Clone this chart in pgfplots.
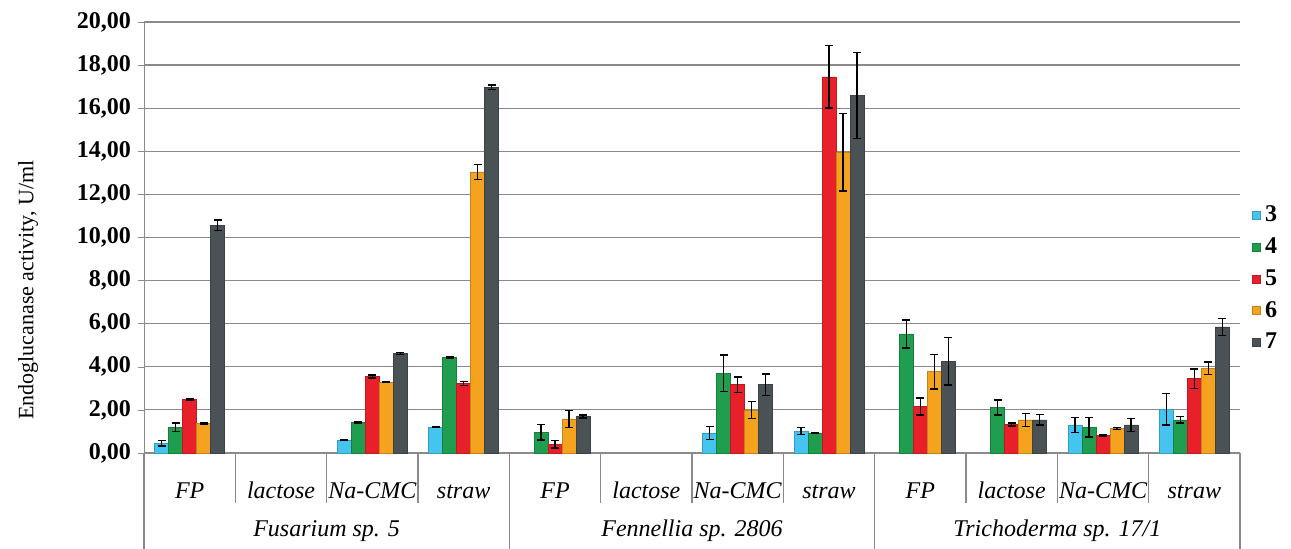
\documentclass[border=0pt]{standalone}
\usepackage{fontspec}
\setmainfont{Liberation Serif}
\usepackage{pgfplots}
\usepackage{pgfplotstable}
\pgfplotsset{compat=1.18}

\definecolor{c3}{HTML}{45C4EF}
\definecolor{c4}{HTML}{1E9E4E}
\definecolor{c5}{HTML}{E8202A}
\definecolor{c6}{HTML}{F5A21E}
\definecolor{c7}{HTML}{4A5255}
\definecolor{linecol}{HTML}{8A8A8A}

% x: 0-3 Fusarium, 4-7 Fennellia, 8-11 Trichoderma (FP, lactose, Na-CMC, straw)
\pgfplotstableread{
x y e
0 0.45 0.12
2 0.60 0.03
3 1.20 0.03
6 0.93 0.30
7 1.02 0.15
10 1.30 0.35
11 2.03 0.73
}\sthree
\pgfplotstableread{
x y e
0 1.19 0.20
2 1.42 0.03
3 4.42 0.04
4 0.96 0.35
6 3.69 0.85
7 0.93 0.03
8 5.53 0.65
9 2.11 0.35
10 1.19 0.45
11 1.54 0.15
}\sfour
\pgfplotstableread{
x y e
0 2.47 0.04
2 3.55 0.07
3 3.22 0.10
4 0.41 0.17
6 3.17 0.35
7 17.45 1.45
8 2.16 0.40
9 1.33 0.07
10 0.81 0.03
11 3.45 0.45
}\sfive
\pgfplotstableread{
x y e
0 1.38 0.04
2 3.28 0.02
3 13.04 0.35
4 1.58 0.40
6 2.00 0.40
7 13.95 1.80
8 3.77 0.80
9 1.54 0.30
10 1.14 0.05
11 3.93 0.30
}\ssix
\pgfplotstableread{
x y e
0 10.57 0.25
2 4.62 0.05
3 16.98 0.10
4 1.70 0.07
6 3.17 0.50
7 16.59 2.00
8 4.26 1.10
9 1.54 0.25
10 1.30 0.30
11 5.85 0.40
}\sseven

\begin{document}
\begin{tikzpicture}
\path[use as bounding box] (-72pt,-48pt) rectangle (573.5pt,226.5pt);
\begin{axis}[
    scale only axis,
    width=548pt, height=215.5pt,
    ybar=0pt, bar width=7pt,
    xmin=-0.5, xmax=11.5,
    ymin=0, ymax=20,
    ytick={0,2,...,20},
    xtick={0,...,11},
    xticklabels={FP,lactose,Na-CMC,straw,FP,lactose,Na-CMC,straw,FP,lactose,Na-CMC,straw},
    xticklabel style={font=\itshape\large, anchor=base, yshift=-20pt},
    major x tick style={draw=none},
    ytick pos=left, tick align=outside, major tick length=3pt,
    ytick style={linecol},
    axis x line*=bottom, axis y line*=left,
    axis line style={-, linecol},
    ymajorgrids, grid style={linecol, line width=0.6pt},
    /pgf/number format/.cd, fixed, fixed zerofill, precision=2, use comma, 1000 sep={}, assume math mode=true,
    /pgfplots/.cd,
    yticklabel style={font=\bfseries\large},
    ylabel={Endoglucanase activity, U/ml},
    every axis y label/.style={at={(rel axis cs:0,0.378)}, xshift=-58pt, rotate=90, anchor=center, font=\fontsize{11}{13}\selectfont},
    legend style={at={(1,0.404)}, anchor=west, xshift=5pt, draw=none, fill=none,
        font=\bfseries\large, row sep=2.5pt, inner sep=1pt},
    legend cell align=left,
    legend image code/.code={\fill[#1] (0pt,-2pt) rectangle (4pt,2pt);},
    clip=false,
    error bars/y dir=both, error bars/y explicit,
    error bars/error mark=-,
    error bars/error bar style={draw=black, line width=0.7pt},
    error bars/error mark options={draw=black, rotate=90, mark size=2pt, line width=0.7pt},
]
\addplot[fill=c3, draw=c3!80!black, line width=0.3pt] table[x=x, y=y, y error=e] {\sthree};
\addlegendentry{3}
\addplot[fill=c4, draw=c4!80!black, line width=0.3pt] table[x=x, y=y, y error=e] {\sfour};
\addlegendentry{4}
\addplot[fill=c5, draw=c5!80!black, line width=0.3pt] table[x=x, y=y, y error=e] {\sfive};
\addlegendentry{5}
\addplot[fill=c6, draw=c6!80!black, line width=0.3pt] table[x=x, y=y, y error=e] {\ssix};
\addlegendentry{6}
\addplot[fill=c7, draw=c7!80!black, line width=0.3pt] table[x=x, y=y, y error=e] {\sseven};
\addlegendentry{7}

% table lines below the axis
\pgfplotsinvokeforeach{0.5,1.5,2.5,4.5,5.5,6.5,8.5,9.5,10.5}{
  \draw[linecol, line width=0.6pt] (axis cs:#1,0) -- ++(0pt,-25pt);
}
\pgfplotsinvokeforeach{-0.5,3.5,7.5,11.5}{
  \draw[linecol, line width=0.6pt] (axis cs:#1,0) -- ++(0pt,-48pt);
}
\node[font=\itshape\large, anchor=base] at ([yshift=-42pt]axis cs:1.5,0) {Fusarium sp. 5};
\node[font=\itshape\large, anchor=base] at ([yshift=-42pt]axis cs:5.5,0) {Fennellia sp. 2806};
\node[font=\itshape\large, anchor=base] at ([yshift=-42pt]axis cs:9.5,0) {Trichoderma sp. 17/1};
\end{axis}
\end{tikzpicture}
\end{document}
